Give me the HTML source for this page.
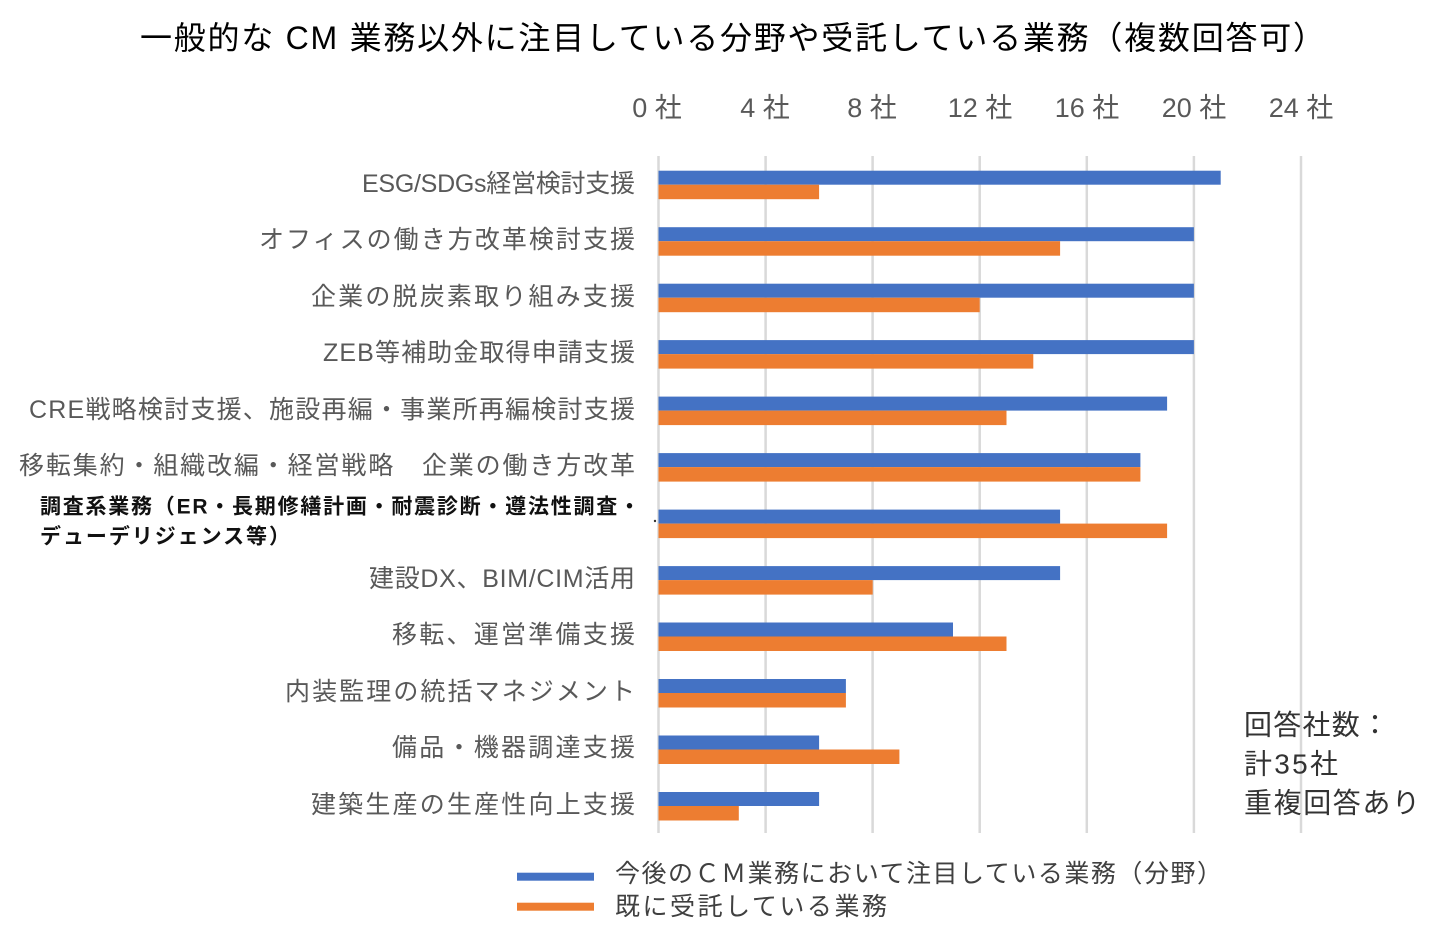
<!DOCTYPE html>
<html><head><meta charset="utf-8"><style>
html,body{margin:0;padding:0;background:#fff;}
svg{display:block;}
text{font-family:"Liberation Sans","Noto Sans CJK JP",sans-serif;}
</style></head><body>
<svg width="1438" height="933" viewBox="0 0 1438 933" xmlns="http://www.w3.org/2000/svg">
<rect width="1438" height="933" fill="#fff"/>
<!-- title -->
<text x="140" y="38" font-size="32" fill="#000" dominant-baseline="central" textLength="1185">一般的な CM 業務以外に注目している分野や受託している業務（複数回答可）</text>
<!-- tick labels -->
<g font-size="27" fill="#595959" dominant-baseline="central" text-anchor="middle">
<text x="657" y="108">0 社</text>
<text x="765" y="108">4 社</text>
<text x="872" y="108">8 社</text>
<text x="980" y="108">12 社</text>
<text x="1087" y="108">16 社</text>
<text x="1194" y="108">20 社</text>
<text x="1301" y="108">24 社</text>
</g>
<!-- gridlines -->
<g stroke="#d9d9d9" stroke-width="2.5">
<line x1="658.5" y1="156" x2="658.5" y2="833"/>
<line x1="765.6" y1="156" x2="765.6" y2="833"/>
<line x1="872.6" y1="156" x2="872.6" y2="833"/>
<line x1="979.7" y1="156" x2="979.7" y2="833"/>
<line x1="1086.8" y1="156" x2="1086.8" y2="833"/>
<line x1="1193.9" y1="156" x2="1193.9" y2="833"/>
<line x1="1301" y1="156" x2="1301" y2="833"/>
</g>
<!-- bars -->
<g fill="#4472C4">
<rect x="658.5" y="170.7" width="562.2" height="14"/>
<rect x="658.5" y="227.2" width="535.4" height="14"/>
<rect x="658.5" y="283.7" width="535.4" height="14"/>
<rect x="658.5" y="340.1" width="535.4" height="14"/>
<rect x="658.5" y="396.6" width="508.6" height="14"/>
<rect x="658.5" y="453.1" width="481.9" height="14"/>
<rect x="658.5" y="509.6" width="401.6" height="14"/>
<rect x="658.5" y="566.1" width="401.6" height="14"/>
<rect x="658.5" y="622.5" width="294.5" height="14"/>
<rect x="658.5" y="679.0" width="187.4" height="14"/>
<rect x="658.5" y="735.5" width="160.6" height="14"/>
<rect x="658.5" y="792.0" width="160.6" height="14"/>
</g>
<g fill="#ED7D31">
<rect x="658.5" y="184.7" width="160.6" height="14.5"/>
<rect x="658.5" y="241.2" width="401.6" height="14.5"/>
<rect x="658.5" y="297.7" width="321.2" height="14.5"/>
<rect x="658.5" y="354.1" width="374.8" height="14.5"/>
<rect x="658.5" y="410.6" width="348.0" height="14.5"/>
<rect x="658.5" y="467.1" width="481.9" height="14.5"/>
<rect x="658.5" y="523.6" width="508.6" height="14.5"/>
<rect x="658.5" y="580.1" width="214.2" height="14.5"/>
<rect x="658.5" y="636.5" width="348.0" height="14.5"/>
<rect x="658.5" y="693.0" width="187.4" height="14.5"/>
<rect x="658.5" y="749.5" width="240.9" height="14.5"/>
<rect x="658.5" y="806.0" width="80.3" height="14.5"/>
</g>
<!-- category labels -->
<g font-size="25" fill="#595959" dominant-baseline="central">
<text x="362" y="184" textLength="273">ESG/SDGs経営検討支援</text>
<text x="259" y="240" textLength="376">オフィスの働き方改革検討支援</text>
<text x="311" y="297" textLength="324">企業の脱炭素取り組み支援</text>
<text x="323" y="353" textLength="312">ZEB等補助金取得申請支援</text>
<text x="29" y="410" textLength="606">CRE戦略検討支援、施設再編・事業所再編検討支援</text>
<text x="19" y="466" textLength="616">移転集約・組織改編・経営戦略　企業の働き方改革</text>
<text x="369" y="579" textLength="266">建設DX、BIM/CIM活用</text>
<text x="392" y="635" textLength="243">移転、運営準備支援</text>
<text x="285" y="692" textLength="350">内装監理の統括マネジメント</text>
<text x="392" y="748" textLength="243">備品・機器調達支援</text>
<text x="311" y="805" textLength="324">建築生産の生産性向上支援</text>
</g>
<g font-size="21" fill="#111" font-weight="bold" dominant-baseline="central">
<text x="40" y="507" textLength="600">調査系業務（ER・長期修繕計画・耐震診断・遵法性調査・</text>
<text x="40" y="537" textLength="250">デューデリジェンス等）</text>
</g>
<circle cx="655" cy="521" r="1.2" fill="#333"/>
<!-- annotation -->
<g font-size="28" fill="#333" dominant-baseline="central">
<text x="1244" y="725" textLength="145">回答社数：</text>
<text x="1244" y="764" textLength="94">計35社</text>
<text x="1244" y="803" textLength="176">重複回答あり</text>
</g>
<!-- legend -->
<rect x="517" y="872.7" width="77" height="8" fill="#4472C4"/>
<rect x="517" y="902.7" width="77" height="8" fill="#ED7D31"/>
<g font-size="25" fill="#404040" dominant-baseline="central">
<text x="615" y="874" textLength="607">今後のＣＭ業務において注目している業務（分野）</text>
<text x="615" y="907" textLength="272">既に受託している業務</text>
</g>
</svg>
</body></html>
